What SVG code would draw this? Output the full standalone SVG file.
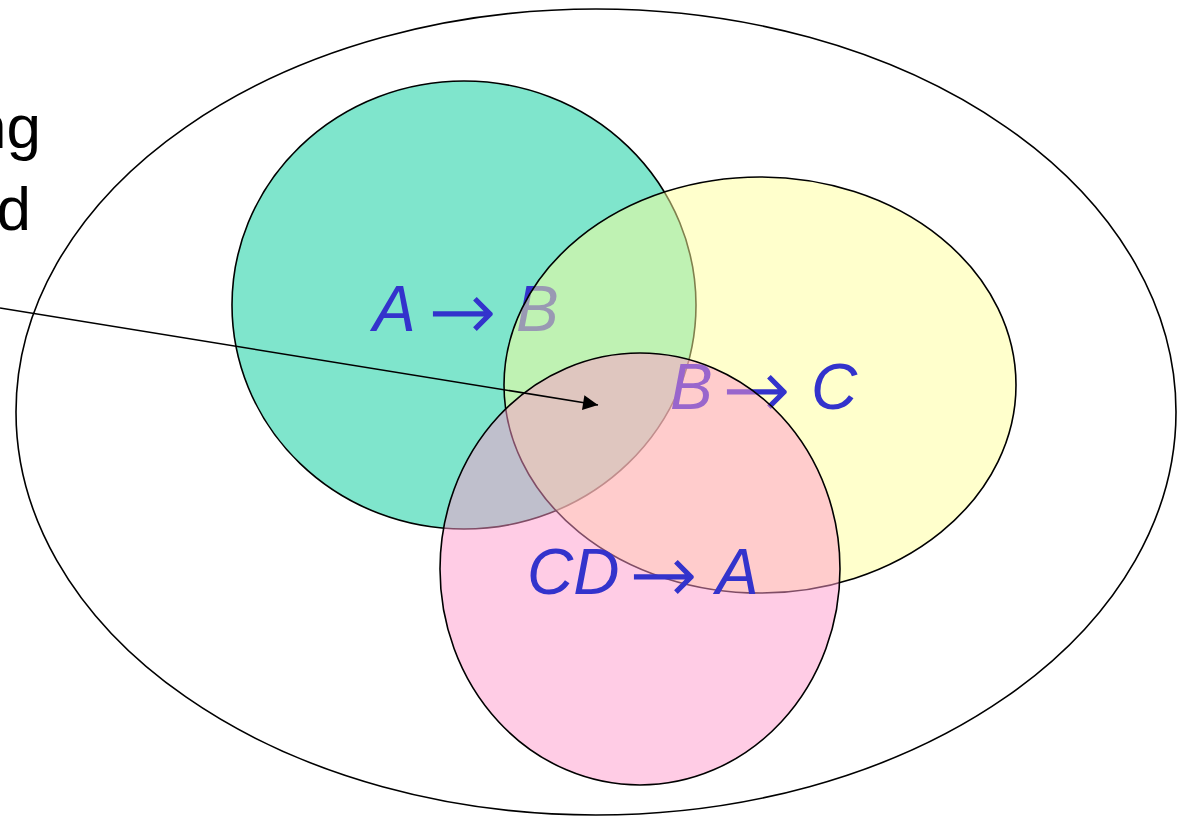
<svg xmlns="http://www.w3.org/2000/svg" width="1180" height="817" viewBox="0 0 1180 817">
<style>
.sh{stroke:#000;stroke-width:1.6}
.lbl{font-family:"Liberation Sans",Arial,sans-serif;font-size:64px;font-style:italic;fill:#3333CC}
.ar{font-family:"DejaVu Sans",sans-serif;font-style:normal;font-weight:200;font-size:80px;stroke:#3333CC;stroke-width:1.2}
.side{font-family:"Liberation Sans",Arial,sans-serif;font-size:62px;fill:#000}
</style>
<defs>
<marker id="ah" viewBox="0 0 10 10" refX="10" refY="5" markerWidth="17" markerHeight="15" markerUnits="userSpaceOnUse" orient="auto">
<path d="M0,0 L10,5 L0,10 z" fill="#000"/>
</marker>
</defs>
<rect width="1180" height="817" fill="#fff"/>
<g id="universe"><ellipse class="sh" cx="596" cy="412" rx="580" ry="403" fill="#fff"/></g>
<g id="side-text">
<text class="side" x="41" y="148" text-anchor="end">ng</text>
<text class="side" x="31" y="230" text-anchor="end">d</text>
</g>
<g id="fd-ab">
<ellipse class="sh" cx="464" cy="305" rx="232" ry="224" fill="#00CC99" fill-opacity="0.5"/>
<text class="lbl" y="331"><tspan x="373">A</tspan><tspan class="ar" x="429" dy="8">→</tspan><tspan x="516" dy="-8">B</tspan></text>
</g>
<g id="fd-bc">
<ellipse class="sh" cx="760" cy="385" rx="256" ry="208" fill="#FFFF99" fill-opacity="0.5"/>
<text class="lbl" y="409"><tspan x="670">B</tspan><tspan class="ar" x="723" dy="8">→</tspan><tspan x="811" dy="-8">C</tspan></text>
</g>
<g id="fd-cda">
<ellipse class="sh" cx="640" cy="569" rx="200" ry="216" fill="#FF99CC" fill-opacity="0.5"/>
<text class="lbl" y="594"><tspan x="527">CD</tspan><tspan class="ar" x="630" dy="8">→</tspan><tspan x="716" dy="-8">A</tspan></text>
</g>
<g id="connectors">
<line x1="0" y1="308" x2="598" y2="405" stroke="#000" stroke-width="1.6" marker-end="url(#ah)"/>
</g>
</svg>
